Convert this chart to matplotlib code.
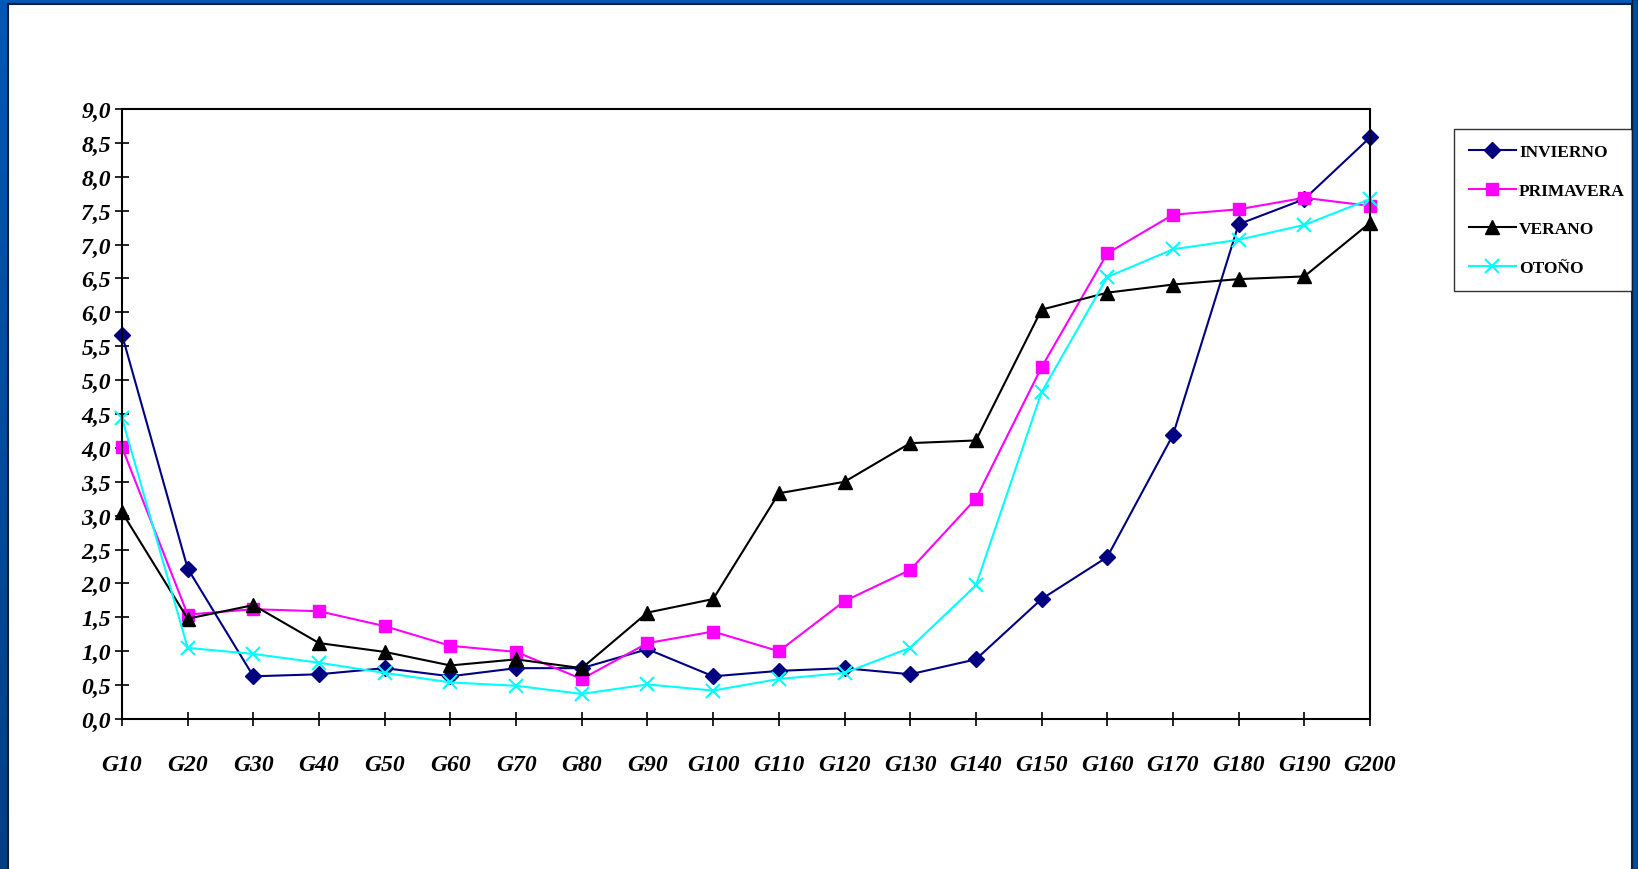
import numpy as np
import matplotlib
matplotlib.use('Agg')
import matplotlib.pyplot as plt
from matplotlib.patches import Rectangle

# Data
categories = ['G10', 'G20', 'G30', 'G40', 'G50', 'G60', 'G70', 'G80', 'G90', 'G100',
              'G110', 'G120', 'G130', 'G140', 'G150', 'G160', 'G170', 'G180', 'G190', 'G200']
invierno = [5.67, 2.22, 0.63, 0.66, 0.75, 0.63, 0.75, 0.75, 1.03, 0.63,
            0.71, 0.75, 0.66, 0.88, 1.77, 2.39, 4.19, 7.30, 7.67, 8.58]
primavera = [4.01, 1.54, 1.62, 1.59, 1.37, 1.08, 0.99, 0.59, 1.12, 1.29,
             1.00, 1.74, 2.20, 3.25, 5.19, 6.87, 7.44, 7.52, 7.69, 7.57]
verano = [3.05, 1.48, 1.68, 1.12, 0.99, 0.79, 0.88, 0.75, 1.57, 1.77,
          3.33, 3.50, 4.07, 4.11, 6.04, 6.29, 6.41, 6.49, 6.53, 7.32]
otono = [4.44, 1.05, 0.96, 0.83, 0.68, 0.54, 0.49, 0.37, 0.51, 0.42,
         0.59, 0.68, 1.05, 1.97, 4.82, 6.52, 6.93, 7.07, 7.29, 7.67]
y_ticks = np.arange(0, 9.01, 0.5)

font_fam = ['Liberation Serif', 'DejaVu Serif']

W, H = 1638, 870
fig = plt.figure(figsize=(W / 100, H / 100), dpi=100)

# Blue frame with gradient, white slide area inside
bg = fig.add_axes([0, 0, 1, 1], zorder=-5)
grad = np.linspace(0, 1, 256).reshape(-1, 1)
bg.imshow(grad, aspect='auto', extent=[0, 1, 0, 1], origin='lower',
          cmap=matplotlib.colors.LinearSegmentedColormap.from_list('b', ['#003f85', '#0058b8']))
bg.set_axis_off()

ax = fig.add_axes([122 / W, 1 - 720 / H, (1370 - 122) / W, (720 - 110) / H])
fig.add_artist(Rectangle((8 / W, -0.01), (1632 - 8) / W, 1 - 5 / H + 0.01,
                         transform=fig.transFigure, facecolor='white',
                         edgecolor='#0a1e3c', linewidth=1.5, zorder=-4))
ax.set_zorder(1)

x = np.arange(len(categories))
ax.plot(x, invierno, color='#000080', marker='D', markersize=8.5, linewidth=1.5,
        label='INVIERNO', clip_on=False)
ax.plot(x, primavera, color='#ff00ff', marker='s', markersize=8.5, linewidth=1.5,
        label='PRIMAVERA', clip_on=False)
ax.plot(x, verano, color='black', marker='^', markersize=9.5, linewidth=1.5,
        label='VERANO', clip_on=False)
ax.plot(x, otono, color='#00ffff', marker='x', markersize=10, markeredgewidth=1.5,
        linewidth=1.5, label='OTOÑO', clip_on=False)

ax.set_xlim(0, len(categories) - 1)
ax.set_ylim(0, 9)
ax.set_yticks(y_ticks)
ax.set_yticklabels([f'{v:.1f}'.replace('.', ',') for v in y_ticks],
                   family=font_fam, fontweight='bold', style='italic', fontsize=17)
ax.set_xticks(x)
ax.set_xticklabels(categories, family=font_fam, fontweight='bold',
                   style='italic', fontsize=17)
ax.tick_params(axis='both', direction='inout', length=10, width=1.2, colors='black')
ax.tick_params(axis='x', pad=20)
ax.tick_params(axis='y', pad=3)
for s in ax.spines.values():
    s.set_linewidth(1.5)
    s.set_color('black')

leg = ax.legend(loc='upper left', bbox_to_anchor=(1454 / W, 1 - 130 / H),
                bbox_transform=fig.transFigure, frameon=True, fancybox=False,
                prop={'family': font_fam, 'weight': 'bold', 'size': 12.5},
                handlelength=2.7, handletextpad=0.2, labelspacing=1.3,
                borderpad=0.85, borderaxespad=0)
leg.get_frame().set_edgecolor('black')
leg.get_frame().set_linewidth(1.0)
leg.set_zorder(5)

# right blue border
fig.add_artist(Rectangle((1632 / W, 0), 6 / W, 1, transform=fig.transFigure,
                         facecolor='#004d9e', edgecolor='#0a1e3c', linewidth=1.0, zorder=10))

plt.savefig('out.png', dpi=100)
